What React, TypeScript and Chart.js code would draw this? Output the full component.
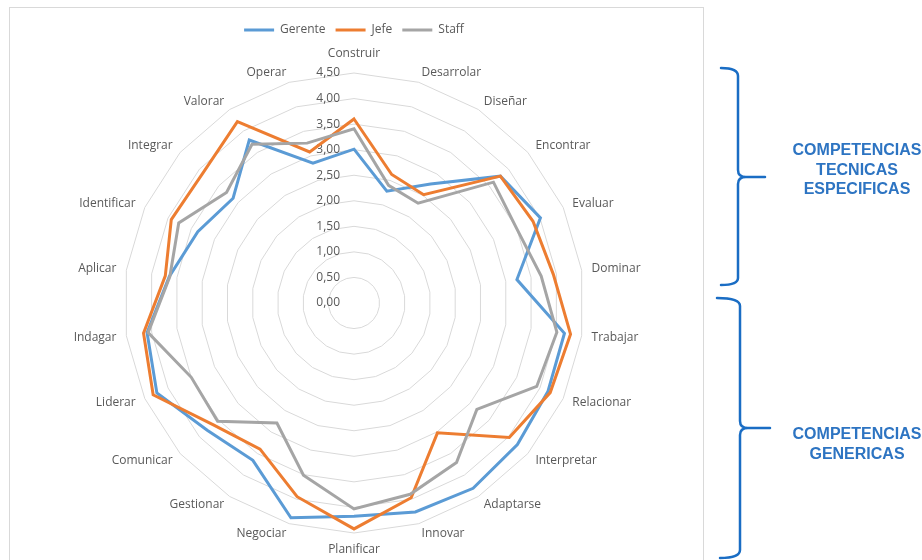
import React, { useEffect, useRef } from "react";
import { Chart, registerables } from "chart.js";

Chart.register(...registerables);

const CATEGORIES = [
  "Construir", "Desarrolar", "Diseñar", "Encontrar", "Evaluar", "Dominar",
  "Trabajar", "Relacionar", "Interpretar", "Adaptarse", "Innovar", "Planificar",
  "Negociar", "Gestionar", "Comunicar", "Liderar", "Indagar", "Aplicar",
  "Identificar", "Integrar", "Valorar", "Operar",
];

const GERENTE = [3.01, 2.28, 2.77, 3.79, 4.01, 3.22, 4.16, 4.17, 4.23, 4.31, 4.26, 4.17, 4.38, 3.66, 3.8, 4.24, 4.09, 3.65, 3.36, 3.13, 3.79, 2.85];
const JEFE = [3.6, 2.62, 2.52, 3.79, 3.85, 3.94, 4.28, 4.22, 4.02, 3.02, 3.97, 4.42, 3.95, 3.4, 3.64, 4.32, 4.16, 3.73, 3.93, 3.9, 4.22, 3.08];
const STAFF = [3.41, 2.4, 2.32, 3.61, 3.5, 3.7, 4.01, 3.93, 3.18, 3.71, 3.9, 4.03, 3.51, 2.79, 3.53, 3.5, 4.07, 3.64, 3.77, 3.3, 3.69, 3.26];

const SERIES_NAMES = ["Gerente", "Jefe", "Staff"];
const SERIES_COLORS = ["#5B9BD5", "#ED7D31", "#A5A5A5"];

const SCALE_MIN = 0;
const SCALE_MAX = 4.5;
const SCALE_STEP = 0.5;

const GROUP_TECNICAS = ["COMPETENCIAS", "TECNICAS", "ESPECIFICAS"];
const GROUP_GENERICAS = ["COMPETENCIAS", "GENERICAS"];

const FONT = "'Open Sans', sans-serif";
const TEXT_COLOR = "#595959";

const tickLabelsPlugin = {
  id: "excelTickLabels",
  beforeDatasetsDraw(chart: any) {
    const scale = chart.scales.r;
    const ctx = chart.ctx;
    ctx.save();
    ctx.font = `12px ${FONT}`;
    ctx.fillStyle = TEXT_COLOR;
    ctx.textAlign = "right";
    ctx.textBaseline = "middle";
    scale.ticks.forEach((t: any) => {
      const d = scale.getDistanceFromCenterForValue(t.value);
      ctx.fillText(String(t.label), scale.xCenter - 14, scale.yCenter - d);
    });
    ctx.restore();
  },
};

const pointLabelsPlugin = {
  id: "excelPointLabels",
  afterDraw(chart: any) {
    const scale = chart.scales.r;
    const ctx = chart.ctx;
    const labels = chart.data.labels as string[];
    const n = labels.length;
    ctx.save();
    ctx.font = `12px ${FONT}`;
    ctx.fillStyle = TEXT_COLOR;
    ctx.textBaseline = "middle";
    for (let i = 0; i < n; i++) {
      const p = scale.getPointPosition(i, scale.drawingArea + 10);
      const deg = Math.round((i * 360) / n);
      let y = p.y;
      let align: CanvasTextAlign;
      if (deg === 0) {
        align = "center";
        y -= 9;
      } else if (deg === 180) {
        align = "center";
        y += 7;
      } else if (deg < 180) {
        align = "left";
      } else {
        align = "right";
      }
      ctx.textAlign = align;
      ctx.fillText(labels[i], p.x, y);
    }
    ctx.restore();
  },
};

export default function App() {
  const ref = useRef<HTMLCanvasElement>(null);

  useEffect(() => {
    if (!ref.current) return;
    const seriesData = [GERENTE, JEFE, STAFF];
    const chart = new Chart(ref.current, {
      type: "radar",
      data: {
        labels: CATEGORIES,
        datasets: SERIES_NAMES.map((name, i) => ({
          label: name,
          data: seriesData[i],
          borderColor: SERIES_COLORS[i],
          backgroundColor: SERIES_COLORS[i],
          borderWidth: 3,
          fill: false,
          pointRadius: 0,
          pointHoverRadius: 0,
          tension: 0,
          order: 3 - i,
        })),
      },
      options: {
        responsive: false,
        animation: false,
        layout: { padding: { left: 114, right: 119, top: 6, bottom: 0 } },
        plugins: {
          legend: {
            position: "top",
            labels: {
              usePointStyle: true,
              pointStyle: "line",
              pointStyleWidth: 30,
              padding: 10,
              color: TEXT_COLOR,
              font: { family: FONT, size: 12 },
              sort: (a: any, b: any) => a.datasetIndex - b.datasetIndex,
            },
          },
          tooltip: { enabled: false },
        },
        scales: {
          r: {
            min: SCALE_MIN,
            max: SCALE_MAX,
            ticks: {
              display: false,
              stepSize: SCALE_STEP,
              callback: (v: any) => Number(v).toFixed(2).replace(".", ","),
            },
            grid: { circular: false, color: "#D9D9D9", lineWidth: 1 },
            angleLines: { display: false },
            pointLabels: { display: false },
          },
        },
      },
      plugins: [tickLabelsPlugin, pointLabelsPlugin],
    } as any);
    return () => chart.destroy();
  }, []);

  const braceColor = "#1A6DC4";
  const textColor = "#2D74C2";

  return (
    <div style={{ position: "fixed", left: 0, top: 0, width: 922, height: 560, overflow: "hidden", background: "#fff" }}>
      <div
        style={{
          position: "absolute",
          left: 9,
          top: 7,
          width: 695,
          height: 553,
          boxSizing: "border-box",
          borderLeft: "1px solid #D9D9D9",
          borderTop: "1px solid #D9D9D9",
          borderRight: "1px solid #D9D9D9",
        }}
      >
        <canvas ref={ref} width={693} height={552} style={{ display: "block" }} />
      </div>
      <svg width={922} height={560} style={{ position: "absolute", left: 0, top: 0, pointerEvents: "none" }}>
        <g fill="none" stroke={braceColor} strokeWidth={2.5} strokeLinecap="round" strokeLinejoin="round">
          <path d="M 721 68 Q 738 68 738 76 L 738 170 Q 738 177 746 177 L 765 177 M 746 177 Q 738 177 738 184 L 738 278 Q 738 285 721 285" />
          <path d="M 717 298 Q 740 298 740 306 L 740 421 Q 740 428 748 428 L 770 428 M 748 428 Q 740 428 740 435 L 740 550 Q 740 558 720 558" />
        </g>
        <g fill={textColor} fontFamily="'Liberation Sans', Arial, sans-serif" fontWeight="bold" fontSize={16} textAnchor="middle">
          {GROUP_TECNICAS.map((t, i) => (
            <text key={"t" + i} x={857} y={155 + i * 19.5}>{t}</text>
          ))}
          {GROUP_GENERICAS.map((t, i) => (
            <text key={"g" + i} x={857} y={438.5 + i * 20}>{t}</text>
          ))}
        </g>
      </svg>
    </div>
  );
}
